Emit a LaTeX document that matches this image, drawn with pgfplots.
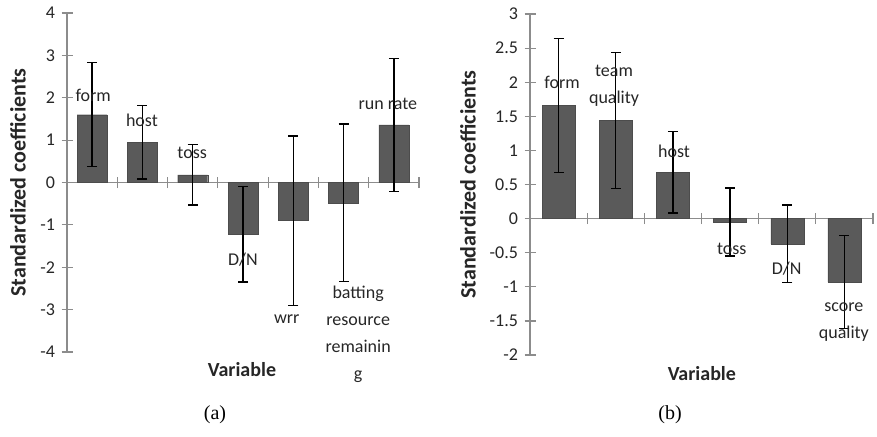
\documentclass[border=0pt]{standalone}
\usepackage{pgfplots}
\pgfplotsset{compat=1.18}
\usepackage{fontspec}
\setmainfont{Carlito}
\newfontfamily\capfont{Liberation Serif}
\definecolor{barcol}{RGB}{90,90,90}
\definecolor{axcol}{RGB}{140,140,140}

\tikzset{
  coeflbl/.style={font=\fontsize{18pt}{27pt}\selectfont, text=black!85, align=center, inner sep=0pt},
}
\pgfplotsset{
  coefbars/.style={
    scale only axis,
    axis x line*=middle, axis y line*=left,
    axis line style={axcol, line width=1.2pt},
    major tick style={axcol, line width=1.2pt},
    tick align=center, major tick length=11pt,
    xticklabels={}, xtick={1,...,7},
    clip=false,
    ticklabel style={font=\fontsize{18pt}{20pt}\selectfont, text=black!85},
    yticklabel style={xshift=-3pt},
    /pgf/number format/assume math mode=true,
    ylabel={Standardized coefficients},
    xlabel={Variable},
    xlabel style={font=\fontsize{20pt}{22pt}\selectfont\bfseries, text=black!85},
    ylabel style={font=\fontsize{22pt}{24pt}\selectfont\bfseries, text=black!85},
  },
  errs/.style={
    error bars/.cd, y dir=both, y explicit,
    error bar style={black, line width=1.3pt},
    error mark options={black, rotate=90, mark size=5pt, line width=1.3pt},
  },
}

\begin{document}
\begin{tikzpicture}
\useasboundingbox (0,0) rectangle (877pt,-436pt);

% (a)
\begin{axis}[coefbars,
  at={(67pt,-352pt)}, anchor=south west,
  width=352pt, height=339pt,
  xmin=0, xmax=7, ymin=-4, ymax=4, ytick={-4,...,4},
  ylabel style={at={(axis description cs:-0.139,0.5)}, anchor=center},
  xlabel style={at={(axis description cs:0.497,-0.053)}, anchor=center},
]
\addplot[ybar, bar width=30pt, fill=barcol, draw=barcol!85!black, errs]
  table[x=x, y=y, y error=e] {
x   y      e
0.5 1.60   1.23
1.5 0.95   0.87
2.5 0.18   0.71
3.5 -1.22  1.13
4.5 -0.90  2.00
5.5 -0.48  1.86
6.5 1.36   1.57
};
\node[coeflbl] at (axis cs:0.52,2.06) {form};
\node[coeflbl] at (axis cs:1.49,1.47) {host};
\node[coeflbl] at (axis cs:2.49,0.69) {toss};
\node[coeflbl] at (axis cs:3.50,-1.82) {D/N};
\node[coeflbl] at (axis cs:4.37,-3.22) {wrr};
\node[coeflbl] at (axis cs:5.79,-3.58) {batting\\resource\\remainin\\g};
\node[coeflbl] at (axis cs:6.38,1.85) {run rate};
\end{axis}

% (b)
\begin{axis}[coefbars,
  at={(530pt,-355pt)}, anchor=south west,
  width=343pt, height=341pt,
  xmin=0, xmax=6, ymin=-2, ymax=3, ytick={-2,-1.5,...,3},
  xtick={1,...,6},
  ylabel style={at={(axis description cs:-0.181,0.5)}, anchor=center},
  xlabel style={at={(axis description cs:0.501,-0.053)}, anchor=center},
]
\addplot[ybar, bar width=33pt, fill=barcol, draw=barcol!85!black, errs]
  table[x=x, y=y, y error=e] {
x   y      e
0.5 1.66   0.98
1.5 1.44   1.00
2.5 0.68   0.60
3.5 -0.05  0.50
4.5 -0.37  0.57
5.5 -0.93  0.68
};
\node[coeflbl] at (axis cs:0.56,2.00) {form};
\node[coeflbl] at (axis cs:1.47,1.955) {team\\quality};
\node[coeflbl] at (axis cs:2.52,0.98) {host};
\node[coeflbl] at (axis cs:3.53,-0.44) {toss};
\node[coeflbl] at (axis cs:4.49,-0.74) {D/N};
\node[coeflbl] at (axis cs:5.49,-1.515) {score\\quality};
\end{axis}

\node[font=\capfont\fontsize{20pt}{22pt}\selectfont] at (215pt,-415pt) {(a)};
\node[font=\capfont\fontsize{20pt}{22pt}\selectfont] at (670pt,-415pt) {(b)};
\end{tikzpicture}
\end{document}
